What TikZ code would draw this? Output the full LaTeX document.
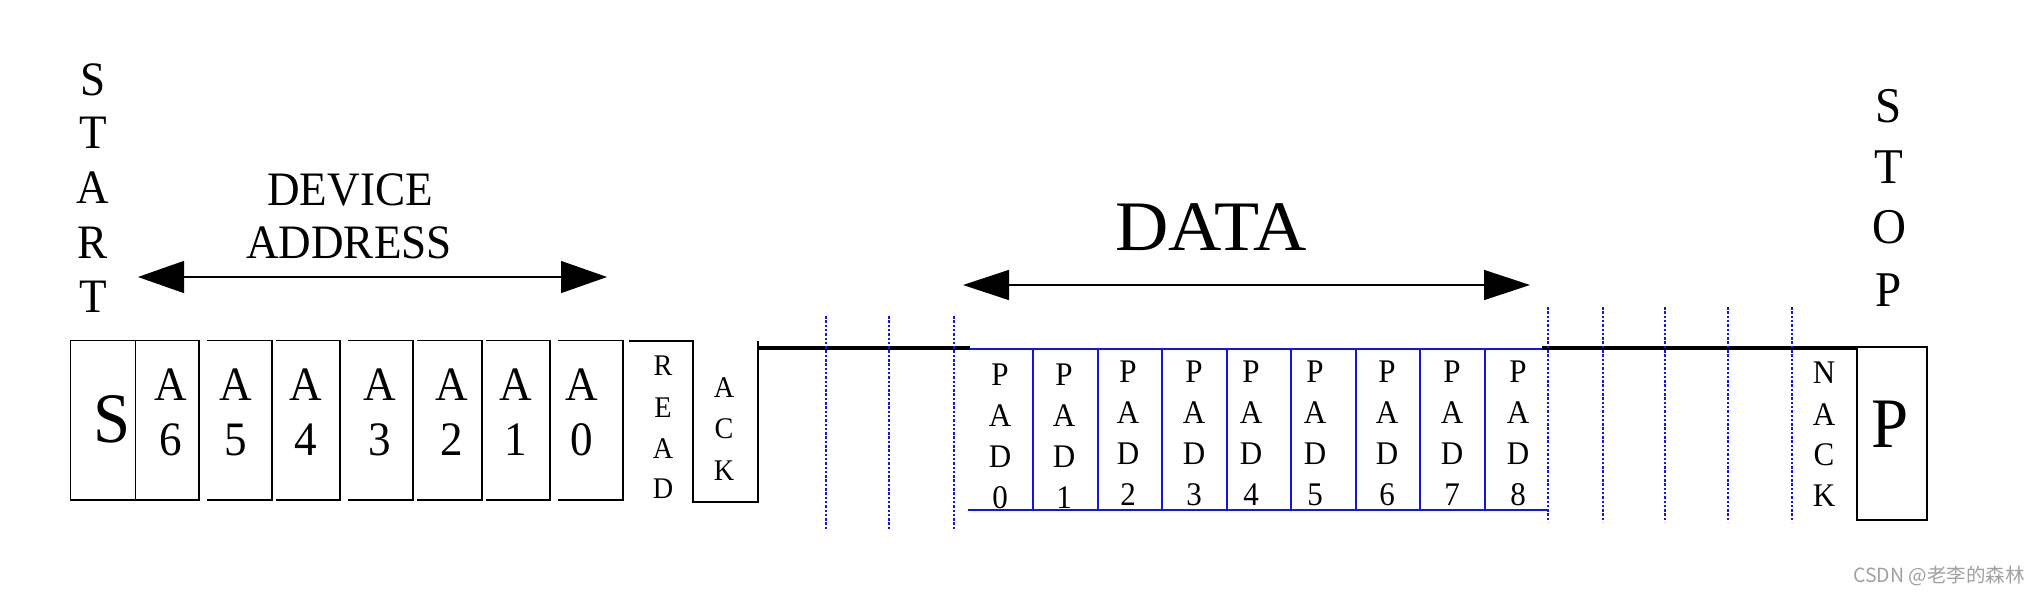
\documentclass[tikz,border=0pt]{standalone}
\usepackage{fontspec}
\setmainfont[FakeStretch=0.94]{Liberation Serif}
\newfontfamily\datafont[FakeStretch=1.04]{Liberation Serif}
\newfontfamily\cjkfont{Noto Sans CJK SC}
\usetikzlibrary{arrows.meta}
\definecolor{wire}{RGB}{0,0,0}
\definecolor{padblue}{RGB}{20,20,230}
\definecolor{wmgrey}{RGB}{160,160,160}
\tikzset{
  lbl/.style={inner sep=0pt, anchor=base, text=black},
  big/.style={lbl, font=\fontsize{48}{48}\selectfont},
  huge/.style={lbl, font=\fontsize{71}{71}\selectfont},
  stopf/.style={lbl, font=\fontsize{50}{50}\selectfont},
  small/.style={lbl, font=\fontsize{30}{30}\selectfont},
  padf/.style={lbl, font=\fontsize{33}{33}\selectfont},
  thinw/.style={draw=wire, line width=1.4pt},
  thickw/.style={draw=wire, line width=4.6pt},
  bluew/.style={draw=padblue, line width=1.2pt},
  dotw/.style={draw=padblue, line width=1.2pt, dash pattern=on 2.5pt off 1.8pt},
  span/.style={draw=black, line width=1.3pt, {Triangle[length=46pt,width=32pt]}-{Triangle[length=46pt,width=32pt]}},
  spanb/.style={draw=black, line width=1.3pt, {Triangle[length=46pt,width=30pt]}-{Triangle[length=46pt,width=30pt]}},
}
\begin{document}
\begin{tikzpicture}[x=1pt,y=-1pt]
\useasboundingbox (0,0) rectangle (2040,595);
% START
\foreach \c/\y [count=\i] in {S/95,T/148,A/203,R/258,T/312}
  \node[big] (start\i) at (93,\y) {\c};
% STOP
\foreach \c/\y [count=\i] in {S/122,T/183,O/243,P/306}
  \node[stopf] (stop\i) at (1889,\y) {\c};
% DEVICE ADDRESS
\node[big] (dev) at (350,205) {DEVICE};
\node[big] (addr) at (349,258) {ADDRESS};
\coordinate (daL) at (138,277);
\coordinate (daR) at (607,277);
\draw[span] (daL) -- (daR);
% DATA
\node[lbl, font=\datafont\fontsize{71}{71}\selectfont] (data) at (1211,250) {DATA};
\coordinate (dtL) at (963,285);
\coordinate (dtR) at (1530,285);
\draw[spanb] (dtL) -- (dtR);
% S box and A boxes
\draw[thinw] (70.7,340.7) rectangle (135.7,500);
\draw[thinw] (135.7,340.7) -- (199,340.7) -- (199,500) -- (135.7,500);
\foreach \l/\r in {207/272,276/340,348/413,417/482,486/550,558/623}
  \draw[thinw] (\l,340.7) -- (\r,340.7) -- (\r,500) -- (\l,500);
\node[huge] (sbig) at (112,442) {S};
\foreach \d/\x [count=\i] in {6/170.7,5/236,4/306,3/380,2/452,1/516,0/582}{
  \node[big] (aA\i) at (\x,400) {A};
  \node[big] (aD\i) at (\x,455) {\d};
}
% READ / ACK waveform
\draw[thinw] (629,341) -- (693,341) -- (693,502) -- (758,502) -- (758,341);
\foreach \c/\y [count=\i] in {R/375,E/417,A/458,D/498}
  \node[small] (rd\i) at (663,\y) {\c};
\foreach \c/\y [count=\i] in {A/397,C/438,K/480}
  \node[small] (ak\i) at (724,\y) {\c};
% thick high lines
\draw[thickw] (758,348) -- (970,348);
\draw[thickw] (1542,348) -- (1858,348);
% dotted lines
\foreach \x in {826,889,954}
  \draw[dotw] (\x,316) -- (\x,530);
\foreach \x in {1548,1603,1665,1728,1792}
  \draw[dotw] (\x,307) -- (\x,522);
% PAD frame
\draw[bluew] (970,349) -- (1542,349);
\draw[bluew] (968,510) -- (1547,510);
\foreach \x in {1033,1098,1162,1227,1291,1356,1420,1485}
  \draw[bluew] (\x,349) -- (\x,510);
\foreach \d/\x/\s in {0/1000/3.5,1/1064/3.5,2/1128/0,3/1194/0,4/1251/0,5/1315/0,6/1387/0,7/1452/0,8/1518/0}{
  \node[padf] (pP\d) at (\x,382+\s) {P};
  \node[padf] (pA\d) at (\x,423+\s) {A};
  \node[padf] (pD\d) at (\x,464+\s) {D};
  \node[padf] (pN\d) at (\x,505+\s) {\d};
}
% NACK
\foreach \c/\y [count=\i] in {N/383,A/425,C/465,K/506}
  \node[padf] (nk\i) at (1824,\y) {\c};
% P box
\draw[thinw] (1857,347) rectangle (1927,520);
\node[huge] (pbig) at (1890,447) {P};
% watermark
\node[inner sep=0pt, anchor=base west, text=wmgrey, font=\cjkfont\fontsize{19.5}{19.5}\selectfont] (wm) at (1853,582) {CSDN @老李的森林};
\end{tikzpicture}
\end{document}
